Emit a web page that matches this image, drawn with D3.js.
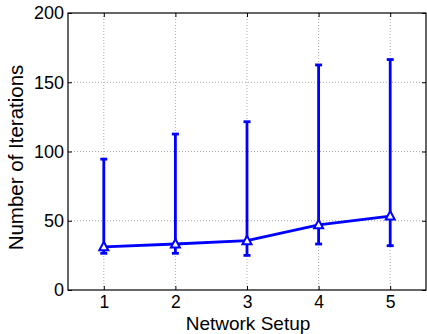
<!DOCTYPE html>
<html>
<head>
<meta charset="utf-8">
<script src="https://cdn.jsdelivr.net/npm/d3@7"></script>
<style>
  body { margin: 0; background: #fff; }
  svg text { font-family: "Liberation Sans", Arial, sans-serif; fill: #000; }
</style>
</head>
<body>
<div id="chart"></div>
<script>
// data
const setups = [1, 2, 3, 4, 5];
const meanIters = [31.2, 33.2, 35.6, 47.1, 53.4];
const upperIters = [94.5, 112.6, 121.5, 162.5, 166.4];
const lowerIters = [26.5, 26.5, 25, 33.2, 32];
const yTicks = [0, 50, 100, 150, 200];

const W = 427, H = 334;
const margin = { top: 13, right: 1, bottom: 44, left: 68 };
const width = W - margin.left - margin.right;
const height = H - margin.top - margin.bottom;

const svg = d3.select("#chart")
  .append("svg")
  .attr("width", W)
  .attr("height", H)
  .append("g")
  .attr("transform", "translate(" + margin.left + "," + margin.top + ")");

const x = d3.scaleLinear().domain([0.5, 5.5]).range([0, width]);
const y = d3.scaleLinear().domain([0, 200]).range([height, 0]);

// dotted grid
svg.append("g")
  .selectAll("line")
  .data(setups)
  .enter().append("line")
  .attr("x1", d => x(d)).attr("x2", d => x(d))
  .attr("y1", 0).attr("y2", height)
  .attr("stroke", "#aaa").attr("stroke-width", 1)
  .attr("stroke-dasharray", "1,2");

svg.append("g")
  .selectAll("line")
  .data(yTicks.slice(1, -1))
  .enter().append("line")
  .attr("x1", 0).attr("x2", width)
  .attr("y1", d => y(d)).attr("y2", d => y(d))
  .attr("stroke", "#aaa").attr("stroke-width", 1)
  .attr("stroke-dasharray", "1,2");

// axes, ticks pointing inward like matlab
const styleAxis = g => {
  g.select(".domain").remove();
  g.selectAll("line").attr("stroke", "#000");
  g.selectAll("text").style("font-size", "18px");
};

svg.append("g")
  .attr("transform", "translate(0," + height + ")")
  .call(d3.axisBottom(x).tickValues(setups).tickFormat(d3.format("d")).tickSizeInner(-4).tickPadding(6))
  .call(styleAxis)
  .selectAll("text").style("font-size", "17.5px");

svg.append("g")
  .call(d3.axisTop(x).tickValues(setups).tickFormat("").tickSizeInner(-4))
  .call(styleAxis);

svg.append("g")
  .call(d3.axisLeft(y).tickValues(yTicks).tickSizeInner(-4).tickPadding(4))
  .call(styleAxis);

svg.append("g")
  .attr("transform", "translate(" + width + ",0)")
  .call(d3.axisRight(y).tickValues(yTicks).tickFormat("").tickSizeInner(-4))
  .call(styleAxis);

svg.append("rect")
  .attr("width", width).attr("height", height)
  .attr("fill", "none").attr("stroke", "#000").attr("stroke-width", 1.2);

const pts = setups.map((s, i) => ({ s, m: meanIters[i], hi: upperIters[i], lo: lowerIters[i] }));
const blue = "#0000ff";

// error bars
const eb = svg.append("g").attr("stroke", blue).attr("stroke-width", 2.8);
eb.selectAll(".v").data(pts).enter().append("line")
  .attr("x1", d => x(d.s)).attr("x2", d => x(d.s))
  .attr("y1", d => y(d.lo)).attr("y2", d => y(d.hi));
eb.selectAll(".cu").data(pts).enter().append("line")
  .attr("x1", d => x(d.s) - 3.5).attr("x2", d => x(d.s) + 3.5)
  .attr("y1", d => y(d.hi)).attr("y2", d => y(d.hi));
eb.selectAll(".cl").data(pts).enter().append("line")
  .attr("x1", d => x(d.s) - 3.5).attr("x2", d => x(d.s) + 3.5)
  .attr("y1", d => y(d.lo)).attr("y2", d => y(d.lo));

// mean line
svg.append("path")
  .datum(pts)
  .attr("fill", "none")
  .attr("stroke", blue)
  .attr("stroke-width", 2.8)
  .attr("d", d3.line().x(d => x(d.s)).y(d => y(d.m)));

// triangle markers
svg.selectAll(".tri").data(pts).enter().append("path")
  .attr("transform", d => "translate(" + x(d.s) + "," + y(d.m) + ")")
  .attr("d", "M0,-5L4.5,3.5L-4.5,3.5Z")
  .attr("fill", "#fff")
  .attr("stroke", blue)
  .attr("stroke-width", 2);

// labels
svg.append("text")
  .attr("x", 180)
  .attr("y", height + 39.5)
  .attr("text-anchor", "middle")
  .style("font-size", "19px")
  .text("Network Setup");

svg.append("text")
  .attr("transform", "translate(" + (-45) + "," + (height / 2 + 6) + ") rotate(-90)")
  .attr("text-anchor", "middle")
  .style("font-size", "20.5px")
  .text("Number of Iterations");
</script>
</body>
</html>
